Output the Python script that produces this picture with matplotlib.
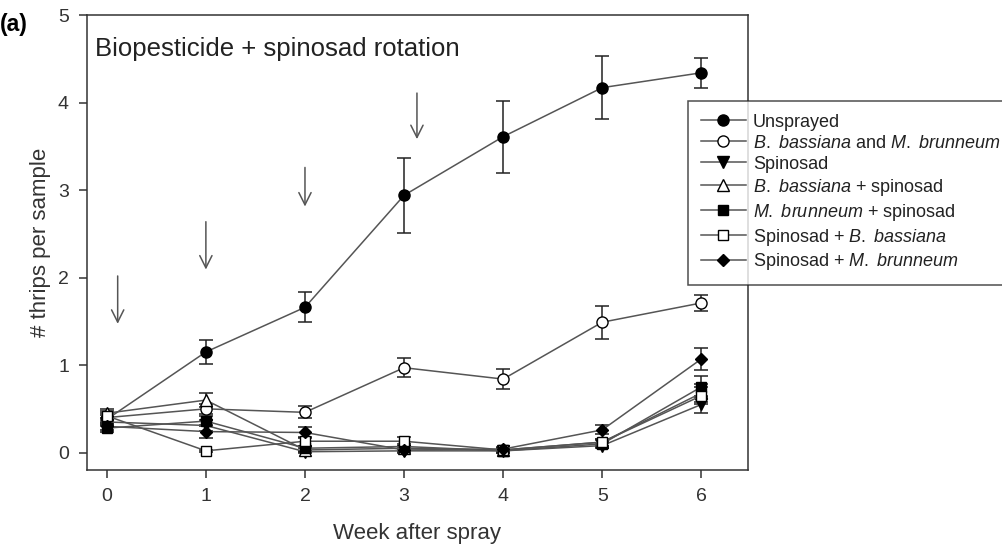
import matplotlib
matplotlib.use('Agg')
import matplotlib.pyplot as plt

plt.rcParams['font.family'] = ['Liberation Sans', 'DejaVu Sans']
plt.rcParams['mathtext.fontset'] = 'custom'
plt.rcParams['mathtext.rm'] = 'Liberation Sans'
plt.rcParams['mathtext.it'] = 'Liberation Sans:italic'

weeks = [0, 1, 2, 3, 4, 5, 6]

unsprayed = [0.38, 1.15, 1.66, 2.94, 3.61, 4.17, 4.34]
unsprayed_se = [0.05, 0.14, 0.17, 0.43, 0.41, 0.36, 0.17]
bb_mb = [0.40, 0.50, 0.46, 0.97, 0.84, 1.49, 1.71]
bb_mb_se = [0.05, 0.06, 0.07, 0.11, 0.11, 0.19, 0.09]
spinosad = [0.35, 0.31, 0.01, 0.02, 0.02, 0.08, 0.55]
spinosad_se = [0.05, 0.06, 0.01, 0.02, 0.02, 0.03, 0.10]
bb_spin = [0.45, 0.60, 0.03, 0.05, 0.03, 0.12, 0.68]
bb_spin_se = [0.05, 0.08, 0.02, 0.03, 0.02, 0.04, 0.10]
mb_spin = [0.28, 0.36, 0.05, 0.07, 0.02, 0.10, 0.75]
mb_spin_se = [0.04, 0.06, 0.03, 0.03, 0.02, 0.04, 0.12]
spin_bb = [0.42, 0.02, 0.13, 0.13, 0.03, 0.12, 0.65]
spin_bb_se = [0.05, 0.01, 0.05, 0.05, 0.02, 0.04, 0.10]
spin_mb = [0.30, 0.24, 0.23, 0.03, 0.04, 0.26, 1.07]
spin_mb_se = [0.04, 0.07, 0.06, 0.02, 0.02, 0.05, 0.13]

labels = ['Unsprayed',
          r'$\mathit{B.}$ $\mathit{bassiana}$ and $\mathit{M.}$ $\mathit{brunneum}$',
          'Spinosad',
          r'$\mathit{B.}$ $\mathit{bassiana}$ + spinosad',
          r'$\mathit{M.}$ $\mathit{brunneum}$ + spinosad',
          r'Spinosad + $\mathit{B.}$ $\mathit{bassiana}$',
          r'Spinosad + $\mathit{M.}$ $\mathit{brunneum}$']

# spray dates (x) with arrow top / bottom in data units
spray_x = [0.11, 1.0, 2.0, 3.13]
arrow_top = [2.05, 2.67, 3.29, 4.14]
arrow_bot = [1.44, 2.06, 2.78, 3.55]

series = [
    (unsprayed, unsprayed_se, 'o', 'black', 8),
    (bb_mb, bb_mb_se, 'o', 'white', 8),
    (spinosad, spinosad_se, 'v', 'black', 8),
    (bb_spin, bb_spin_se, '^', 'white', 8),
    (mb_spin, mb_spin_se, 's', 'black', 7),
    (spin_bb, spin_bb_se, 's', 'white', 7),
    (spin_mb, spin_mb_se, 'D', 'black', 6.5),
]

fig = plt.figure(figsize=(10.03, 5.46), dpi=100)
ax = fig.add_axes([0.0867, 0.139, 0.659, 0.8335])

for (y, se, m, fc, ms), lab in zip(series, labels):
    ax.errorbar(weeks, y, yerr=se, fmt='none', ecolor='#222222',
                elinewidth=1.1, capsize=5, capthick=1.1, zorder=2)
    ax.plot(weeks, y, color='#555555', lw=1.1, marker=m, ms=ms,
            mfc=fc, mec='black', mew=1.0, label=lab, zorder=3)

for x, t, b in zip(spray_x, arrow_top, arrow_bot):
    ax.annotate('', xy=(x, b), xytext=(x, t),
                arrowprops=dict(arrowstyle='->', color='#555555', lw=1.1,
                                mutation_scale=22))

ax.set_xlim(-0.2, 6.47)
ax.set_ylim(-0.2, 5.0)
ax.set_xticks(weeks)
ax.set_yticks([0, 1, 2, 3, 4, 5])
ax.tick_params(direction='out', length=6, width=1.1, labelsize=14,
               labelcolor='#333333', color='#333333', pad=7)
for s in ax.spines.values():
    s.set_color('#333333')
    s.set_linewidth(1.1)

ax.set_xlabel('Week after spray', fontsize=16, color='#333333', labelpad=13)
ax.set_ylabel('# thrips per sample', fontsize=16, color='#333333', labelpad=5)
ax.text(0.012, 0.925, 'Biopesticide + spinosad rotation', transform=ax.transAxes,
        fontsize=18.5, color='#222222', va='center')
fig.text(0.0, 0.955, '(a)', fontsize=16.5, fontweight='bold', va='center')

leg = fig.legend(loc='upper left', bbox_to_anchor=(0.686, 0.815), fontsize=13,
                 frameon=True, fancybox=False, edgecolor='#222222',
                 handlelength=2.5, handletextpad=0.4, borderpad=0.7,
                 labelspacing=0.22, borderaxespad=0)
leg.get_frame().set_linewidth(1.1)
for t in leg.get_texts():
    t.set_color('#222222')

fig.savefig('out.png', dpi=100)
